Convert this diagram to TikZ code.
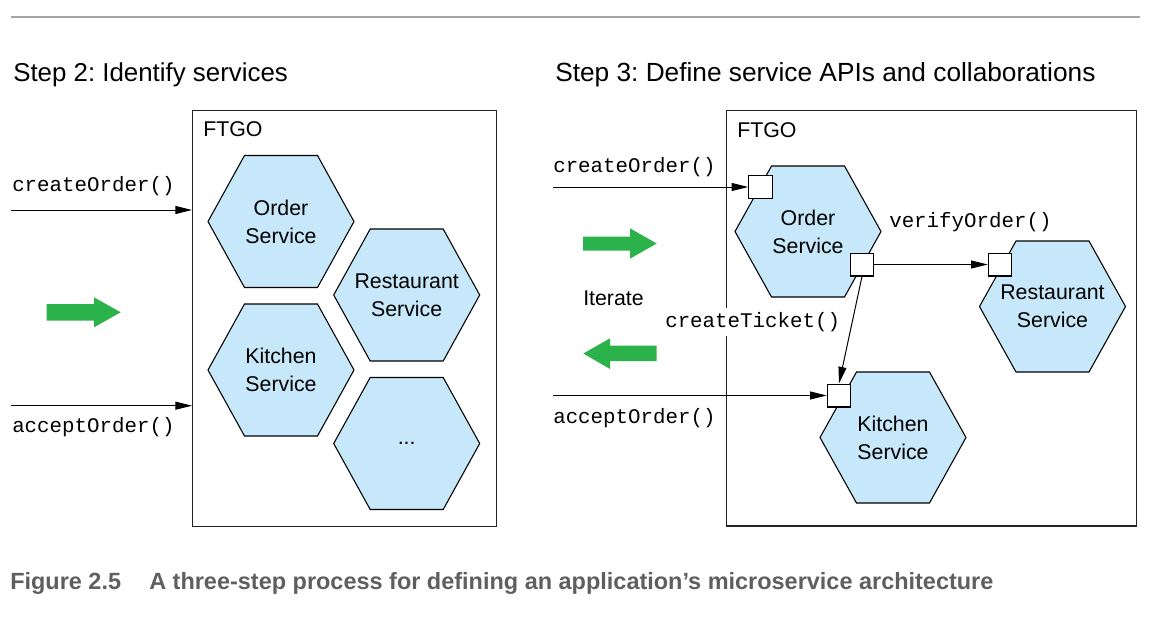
\documentclass[tikz,border=0pt]{standalone}
\usepackage{fontspec}
\setmainfont{Liberation Sans}
\setmonofont{Liberation Mono}
\usetikzlibrary{arrows.meta}
\frenchspacing
\definecolor{hexblue}{RGB}{199,232,250}
\definecolor{arrowgreen}{RGB}{44,178,75}
\definecolor{capgray}{RGB}{95,95,95}
\definecolor{rulegray}{RGB}{165,165,165}
\definecolor{framegray}{RGB}{35,35,35}
\tikzset{
  hexshape/.style={fill=hexblue, draw=black, line width=0.8pt, line join=miter},
  hexlabel/.style={align=center, font=\fontsize{16}{21}\selectfont, inner sep=0pt},
  port/.style={draw=black, fill=white, line width=0.8pt, minimum width=17.6pt, minimum height=17.2pt, inner sep=0pt},
  frame/.style={draw=framegray, line width=1pt, inner sep=0pt, anchor=north west},
  call/.style={-{Triangle[length=12.5pt,width=6pt]}, line width=0.75pt},
  apilabel/.style={font=\ttfamily\fontsize{15.6}{18}\selectfont, anchor=base west, inner sep=0pt},
  title/.style={font=\fontsize{19.7}{23}\selectfont, anchor=base west, inner sep=0pt},
  boxlabel/.style={font=\fontsize{16}{19}\selectfont, anchor=base west, inner sep=0pt},
  bigarrow/.style={fill=arrowgreen},
  caption/.style={font=\bfseries\fontsize{17.6}{22}\selectfont, text=capgray, anchor=base west, inner sep=0pt},
}
\newcommand{\hexagonnode}[6]{% name, cx, cy, R, H, text
  \draw[hexshape] ({#2-#4},{#3}) -- ({#2-#4/2},{#3-#5}) -- ({#2+#4/2},{#3-#5})
     -- ({#2+#4},{#3}) -- ({#2+#4/2},{#3+#5}) -- ({#2-#4/2},{#3+#5}) -- cycle;
  \node[hexlabel] (#1) at (#2,#3) {#6};
}
\begin{document}
\begin{tikzpicture}[x=0.75pt,y=-0.75pt]
\useasboundingbox (0,0) rectangle (1172,626);
% top rule
\coordinate (ruleL) at (11,17);
\coordinate (ruleR) at (1140,17);
\draw[rulegray, line width=1.2pt] (ruleL) -- (ruleR);

% titles
\node[title, font=\fontsize{19.4}{23}\selectfont] (t2) at (13,81) {Step 2: Identify services};
\node[title] (t3) at (555,81) {Step 3: Define service APIs and collaborations};

% ---------- Step 2 ----------
\node[frame, minimum width=228pt, minimum height=312pt] (box2) at (192,109.5) {};
\node[boxlabel] (f2) at (203,136.7) {FTGO};
\hexagonnode{ord2}{281}{221.5}{73}{66}{Order\\Service}
\hexagonnode{kit2}{281}{370}{73}{66}{Kitchen\\Service}
\hexagonnode{res2}{406.7}{295}{73}{66}{Restaurant\\Service}
\hexagonnode{dots2}{406.7}{443.5}{73}{66}{...}

\node[apilabel] (co2) at (12,191.5) {createOrder()};
\node[apilabel] (ao2) at (12,432.5) {acceptOrder()};
\coordinate (co2s) at (11,210);
\coordinate (ao2s) at (11,405.7);
\draw[call] (co2s) -- (co2s -| box2.west);
\draw[call] (ao2s) -- (ao2s -| box2.west);

\fill[bigarrow] (46.7,304) -- (94,304) -- (94,297.3) -- (120.7,312.3) -- (94,327.3) -- (94,320.7) -- (46.7,320.7) -- cycle;

% ---------- Step 3 ----------
\node[frame, minimum width=307.5pt, minimum height=311.5pt] (box3) at (726,110) {};
\node[boxlabel] (f3) at (737,137) {FTGO};
\hexagonnode{ord3}{808}{231.5}{73}{65.5}{Order\\Service}
\hexagonnode{res3}{1052.5}{306.5}{73}{65.5}{Restaurant\\Service}
\hexagonnode{kit3}{893}{437.5}{73}{65.5}{Kitchen\\Service}

\node[port] (p1) at (760.5,187) {};
\node[port] (p2) at (862,264.5) {};
\node[port] (p3) at (1000,264.5) {};
\node[port] (p4) at (839,395.5) {};

\node[apilabel] (co3) at (553,172.7) {createOrder()};
\node[apilabel] (ao3) at (553,423.3) {acceptOrder()};
\node[apilabel] (vo3) at (889,227.7) {verifyOrder()};
\node[apilabel, fill=white, inner sep=3pt] (ct3) at (661,327.3) {createTicket()};
\node[boxlabel] (it) at (583,305) {Iterate};

\coordinate (co3s) at (553,187);
\coordinate (ao3s) at (553,395.5);
\draw[call] (co3s) -- (p1.west);
\draw[call] (ao3s) -- (p4.west);
\draw[call] (p2.east) -- (p3.west);
\draw[call] (p2.south) -- (p4.north);

\fill[bigarrow] (583,236.7) -- (630,236.7) -- (630,228.3) -- (656.7,243.5) -- (630,258.7) -- (630,250.7) -- (583,250.7) -- cycle;
\fill[bigarrow] (656.7,345.7) -- (610,345.7) -- (610,338.3) -- (583.3,353.5) -- (610,369) -- (610,361) -- (656.7,361) -- cycle;

% caption
\node[caption] (capnum) at (10,589) {Figure 2.5};
\node[caption] (captext) at (149,589) {A three-step process for defining an application’s microservice architecture};
\end{tikzpicture}
\end{document}
